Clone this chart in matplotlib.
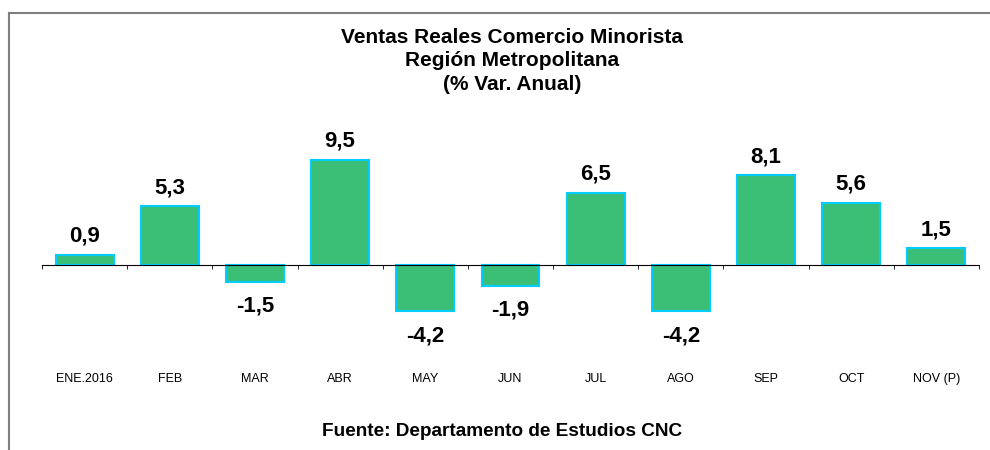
import matplotlib.pyplot as plt
import numpy as np

# Datos
meses = ['ENE.2016', 'FEB', 'MAR', 'ABR', 'MAY', 'JUN', 'JUL', 'AGO', 'SEP', 'OCT', 'NOV (P)']
var_anual = [0.9, 5.3, -1.5, 9.5, -4.2, -1.9, 6.5, -4.2, 8.1, 5.6, 1.5]

plt.rcParams['font.family'] = ['Liberation Sans', 'DejaVu Sans']

fig = plt.figure(figsize=(9.9, 4.5), dpi=100)

# Marco exterior (borde superior e izquierdo)
fig.add_artist(plt.Line2D([9/990, 1], [1 - 13/450, 1 - 13/450], color='#7f7f7f', lw=1.5))
fig.add_artist(plt.Line2D([9/990, 9/990], [0, 1 - 13/450], color='#7f7f7f', lw=1.5))

ax = fig.add_axes([42/990, 50/450, 937/990, 270/450])
x = np.arange(len(meses))
ax.bar(x, var_anual, width=0.68, color='#3bbf77', edgecolor='#00ccff', linewidth=1.5, zorder=2)

ax.set_xlim(-0.5, len(meses) - 0.5)
ax.set_ylim(-12.2, 12.2)

for s in ['top', 'right', 'left']:
    ax.spines[s].set_visible(False)
ax.spines['bottom'].set_position(('data', 0))
ax.spines['bottom'].set_zorder(3)
ax.set_yticks([])

ax.set_xticks(x)
ax.set_xticklabels(meses, fontsize=9)
ax.tick_params(axis='x', which='major', length=0, pad=78)
ax.set_xticks(np.arange(len(meses) + 1) - 0.5, minor=True)
ax.tick_params(axis='x', which='minor', length=3, direction='out')

# Etiquetas de valores
for xi, v in zip(x, var_anual):
    txt = f'{v:.1f}'.replace('.', ',')
    if v >= 0:
        ax.annotate(txt, (xi, v), xytext=(0, 6), textcoords='offset points',
                    ha='center', va='bottom', fontsize=16, fontweight='bold')
    else:
        ax.annotate(txt, (xi, v), xytext=(0, -10), textcoords='offset points',
                    ha='center', va='top', fontsize=16, fontweight='bold')

fig.text(512/990, 1 - 61/450, 'Ventas Reales Comercio Minorista\nRegión Metropolitana\n(% Var. Anual)',
         ha='center', va='center', fontsize=15, fontweight='bold', linespacing=1.27)
fig.text(502/990, 1 - 431/450, 'Fuente: Departamento de Estudios CNC',
         ha='center', va='center', fontsize=13.7, fontweight='bold')

plt.savefig('out.png', dpi=100)
